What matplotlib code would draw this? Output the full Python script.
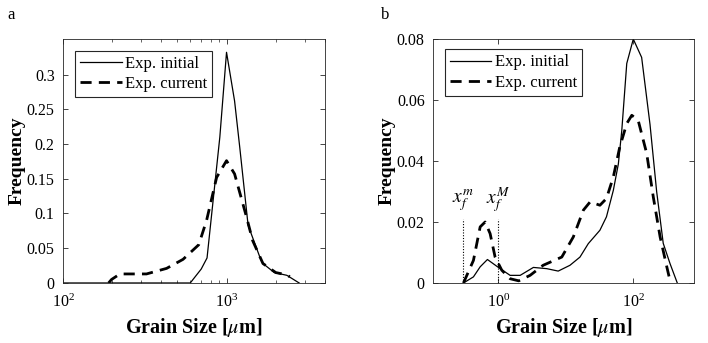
import matplotlib
matplotlib.use('Agg')
import matplotlib.pyplot as plt
import numpy as np
from matplotlib.ticker import FuncFormatter, LogLocator, NullLocator, FixedLocator

plt.rcParams.update({
    'font.family': 'serif',
    'font.serif': ['Liberation Serif', 'DejaVu Serif'],
    'mathtext.fontset': 'stix',
    'font.size': 11,
    'axes.linewidth': 0.6,
    'axes.edgecolor': '#262626',
    'xtick.direction': 'in',
    'ytick.direction': 'in',
    'xtick.top': True,
    'ytick.right': True,
    'xtick.color': '#262626',
    'ytick.color': '#262626',
    'xtick.labelcolor': 'black',
    'ytick.labelcolor': 'black',
})

# Panel a: grain size [um] vs frequency
a_init_x = [100, 600, 700, 760, 910, 1000, 1120, 1205, 1355, 1600, 1670, 1960, 2340, 2780]
a_init_y = [0, 0, 0.020, 0.036, 0.210, 0.332, 0.262, 0.195, 0.083, 0.037, 0.028, 0.015, 0.011, 0]
a_curr_x = [190, 198, 223, 324, 430, 542, 676, 755, 870, 1000, 1120, 1325, 1445, 1670, 2000, 2300, 2440]
a_curr_y = [0, 0.005, 0.013, 0.013, 0.021, 0.034, 0.055, 0.090, 0.152, 0.176, 0.157, 0.095, 0.061, 0.028, 0.015, 0.012, 0.009]

# Panel b
b_init_x = [0.303, 0.426, 0.536, 0.687, 1.0, 1.49, 2.1, 3.3, 5.2, 7.7, 11.5, 16.2, 21.5, 32, 40,
            50.6, 60, 67.5, 80, 100, 133, 177, 222, 278, 350, 449]
b_init_y = [0, 0.002, 0.0053, 0.0077, 0.0051, 0.0025, 0.0025, 0.0051, 0.0047, 0.0039, 0.0058,
            0.0085, 0.0129, 0.0173, 0.0217, 0.0304, 0.039, 0.050, 0.072, 0.080, 0.074, 0.052,
            0.030, 0.013, 0.0064, 0]
b_curr_x = [0.303, 0.426, 0.536, 0.635, 0.753, 0.893, 1.12, 1.49, 2.0, 2.95, 4.6, 8.7, 12.9, 18.2,
            22.9, 32, 40, 50.6, 63, 80, 95, 118, 158, 198, 250, 314, 357]
b_curr_y = [0, 0.0074, 0.0184, 0.020, 0.0162, 0.0085, 0.0042, 0.0014, 0.0007, 0.0025, 0.0058,
            0.0085, 0.0151, 0.0239, 0.0266, 0.0255, 0.0277, 0.0348, 0.0446, 0.0523, 0.055, 0.0534,
            0.0425, 0.0282, 0.0151, 0.0053, 0]
xf_lines = [0.303, 1.0]
xf_labels = [r'$x_f^m$', r'$x_f^M$']

fig = plt.figure(figsize=(7.08, 3.43), dpi=100)
ax1 = fig.add_axes([0.089, 0.175, 0.370, 0.711])
ax2 = fig.add_axes([0.6116, 0.175, 0.3686, 0.711])

fmt = FuncFormatter(lambda v, p: '%g' % v)

for ax, (xi, yi, xc, yc) in zip(
        [ax1, ax2],
        [(a_init_x, a_init_y, a_curr_x, a_curr_y), (b_init_x, b_init_y, b_curr_x, b_curr_y)]):
    ax.plot(xi, yi, color='black', lw=0.9, label='Exp. initial')
    ax.plot(xc, yc, color='black', lw=2.0, ls=(0, (4, 2.6)), label='Exp. current')
    ax.set_xscale('log')
    ax.yaxis.set_major_formatter(fmt)
    ax.tick_params(which='major', length=3.5, width=0.6, labelsize=11.5)
    ax.tick_params(axis='y', pad=6)
    ax.tick_params(axis='x', pad=8)
    ax.tick_params(which='minor', length=2, width=0.5)
    ax.set_xlabel(r'Grain Size [$\mu$m]', fontweight='bold', fontsize=14.5, labelpad=3)
    ax.set_ylabel('Frequency', fontweight='bold', fontsize=14, labelpad=1)

ax1.set_xlim(100, 4000)
ax1.set_ylim(0, 0.351)
ax1.set_yticks(np.arange(0, 0.31, 0.05))
ax1.xaxis.set_major_locator(FixedLocator([100, 1000]))
ax1.xaxis.set_minor_locator(LogLocator(base=10, subs=np.arange(2, 10)))

ax2.set_xlim(10 ** -0.97, 10 ** 2.9)
ax2.set_ylim(0, 0.08)
ax2.set_yticks([0, 0.02, 0.04, 0.06, 0.08])
ax2.xaxis.set_major_locator(FixedLocator([1, 100]))
ax2.xaxis.set_minor_locator(NullLocator())

for xv, lab in zip(xf_lines, xf_labels):
    ax2.plot([xv, xv], [0, 0.021], color='black', lw=0.8, ls=(0, (1, 1.5)))
    ax2.text(xv, 0.0225, lab, ha='center', va='bottom', fontsize=14)

for ax, anchor in [(ax1, (0.046, 0.951)), (ax2, (0.045, 0.958))]:
    leg = ax.legend(loc='upper left', bbox_to_anchor=anchor, borderaxespad=0,
                    fancybox=False, framealpha=1, edgecolor='#262626', fontsize=12,
                    handlelength=2.5, handletextpad=0.2, borderpad=0.3, labelspacing=0.25)
    leg.get_frame().set_linewidth(0.8)

fig.text(0.011, 0.945, 'a', fontsize=12)
fig.text(0.538, 0.945, 'b', fontsize=12)

fig.savefig('out.png', dpi=100)
